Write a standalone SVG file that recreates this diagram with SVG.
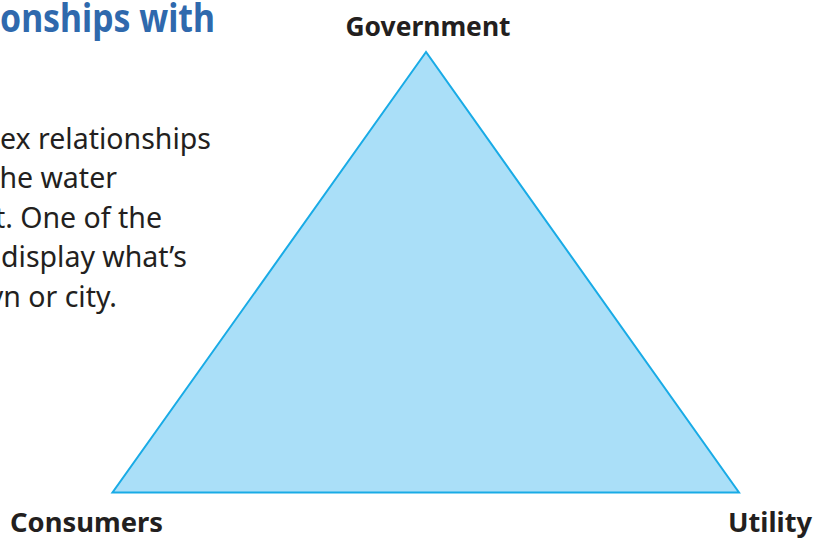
<svg xmlns="http://www.w3.org/2000/svg" width="830" height="539" viewBox="0 0 830 539">
<style>
.title{font-family:"Noto Sans","Open Sans",sans-serif;font-weight:bold;font-size:39px;fill:#2f69ad}
.body{font-family:"Noto Sans","Open Sans",sans-serif;font-size:28.5px;fill:#231f20;text-anchor:end}
.label{font-family:"Noto Sans","Open Sans",sans-serif;font-weight:bold;font-size:27px;fill:#231f20}
.tri{fill:#aadff8;stroke:#19abe6;stroke-width:2;stroke-linejoin:miter}
</style>
<rect width="830" height="539" fill="#ffffff"/>
<text class="title" x="0" y="32" textLength="215" lengthAdjust="spacingAndGlyphs">onships with</text>
<g id="body-text">
<text class="body" x="211" y="149">ex relationships</text>
<text class="body" x="117" y="188">he water</text>
<text class="body" x="162" y="228">t. One of the</text>
<text class="body" x="187" y="267">display what’s</text>
<text class="body" x="117" y="307">yn or city.</text>
</g>
<g id="triangle">
<polygon class="tri" points="426,52 112.5,492.5 739,492.5"/>
</g>
<g id="connectors"></g>
<g id="government"><text class="label" x="428" y="36" text-anchor="middle" textLength="165" lengthAdjust="spacingAndGlyphs">Government</text></g>
<g id="consumers"><text class="label" x="10" y="532" textLength="153" lengthAdjust="spacingAndGlyphs">Consumers</text></g>
<g id="utility"><text class="label" x="728" y="532" textLength="84" lengthAdjust="spacingAndGlyphs">Utility</text></g>
</svg>
